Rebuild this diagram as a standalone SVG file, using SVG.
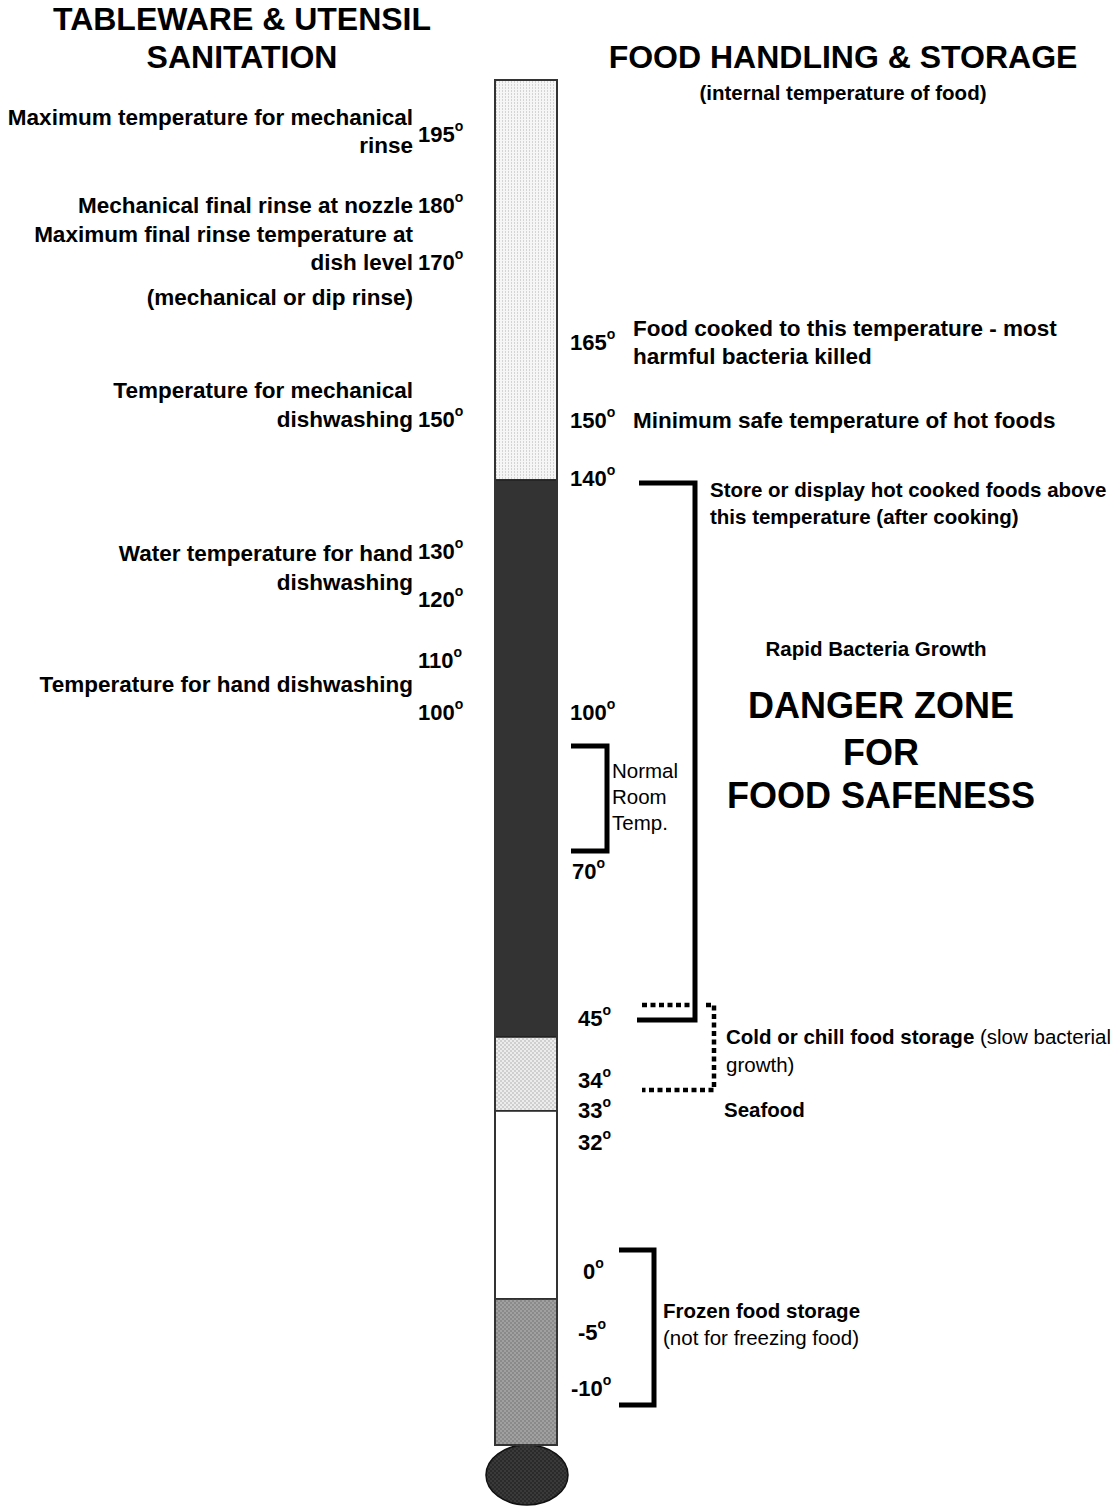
<svg xmlns="http://www.w3.org/2000/svg" width="1111" height="1507" viewBox="0 0 1111 1507">
<defs>
<pattern id="pTop" width="3" height="3" patternUnits="userSpaceOnUse"><rect width="3" height="3" fill="#f6f6f6"/><rect x="1" width="1" height="2" fill="#d4d4d4"/></pattern>
<pattern id="pCold" width="4" height="4" patternUnits="userSpaceOnUse"><rect width="4" height="4" fill="#ececec"/><rect width="2" height="2" fill="#cfcfcf"/><rect x="2" y="2" width="2" height="2" fill="#cfcfcf"/></pattern>
<pattern id="pFrozen" width="4" height="4" patternUnits="userSpaceOnUse"><rect width="4" height="4" fill="#a0a0a0"/><rect width="2" height="2" fill="#8a8a8a"/><rect x="2" y="2" width="2" height="2" fill="#8a8a8a"/></pattern>
<pattern id="pBulb" width="4" height="4" patternUnits="userSpaceOnUse"><rect width="4" height="4" fill="#3a3a3a"/><rect width="2" height="2" fill="#2a2a2a"/><rect x="2" y="2" width="2" height="2" fill="#2a2a2a"/></pattern>
</defs>
<style>
text{font-family:"Liberation Sans",Arial,Helvetica,sans-serif;fill:#000}
.t{font-size:32px;font-weight:bold}
.l{font-size:22.5px;font-weight:bold}
.n{font-size:22px;font-weight:bold}
.s{font-size:20.5px;font-weight:bold}
.r{font-size:20.5px}
.d{font-size:36px;font-weight:bold}
.solid{fill:none;stroke:#000;stroke-width:5}
.dot{fill:none;stroke:#000;stroke-width:4.5;stroke-dasharray:5 3.5}
.seg{stroke:#222;stroke-width:1.5}
</style>

<g id="titles">
<text class="t" x="242" y="30" text-anchor="middle">TABLEWARE &amp; UTENSIL</text>
<text class="t" x="242" y="68" text-anchor="middle">SANITATION</text>
<text class="t" x="843" y="68" text-anchor="middle">FOOD HANDLING &amp; STORAGE</text>
<text class="s" x="843" y="100" text-anchor="middle">(internal temperature of food)</text>
</g>

<g id="thermometer">
<rect x="495" y="80" width="62" height="400" fill="url(#pTop)" class="seg"/>
<rect x="495" y="480" width="62" height="557" fill="#333" class="seg"/>
<rect x="495" y="1037" width="62" height="74" fill="url(#pCold)" class="seg"/>
<rect x="495" y="1111" width="62" height="188" fill="#fff" class="seg"/>
<rect x="495" y="1299" width="62" height="146" fill="url(#pFrozen)" class="seg"/>
<ellipse cx="527" cy="1475" rx="41" ry="30" fill="url(#pBulb)" stroke="#111" stroke-width="1.5"/>
<rect x="495" y="80" width="62" height="1365" fill="none" stroke="#333" stroke-width="2"/>
</g>

<g id="left-labels">
<text class="l" x="413" y="125" text-anchor="end">Maximum temperature for mechanical</text>
<text class="l" x="413" y="153" text-anchor="end">rinse</text>
<text class="n" x="418" y="142">195<tspan font-size="14" dy="-11">o</tspan></text>
<text class="l" x="413" y="213" text-anchor="end">Mechanical final rinse at nozzle</text>
<text class="n" x="418" y="213">180<tspan font-size="14" dy="-11">o</tspan></text>
<text class="l" x="413" y="242" text-anchor="end">Maximum final rinse temperature at</text>
<text class="l" x="413" y="270" text-anchor="end">dish level</text>
<text class="n" x="418" y="270">170<tspan font-size="14" dy="-11">o</tspan></text>
<text class="l" x="413" y="305" text-anchor="end">(mechanical or dip rinse)</text>
<text class="l" x="413" y="398" text-anchor="end">Temperature for mechanical</text>
<text class="l" x="413" y="427" text-anchor="end">dishwashing</text>
<text class="n" x="418" y="427">150<tspan font-size="14" dy="-11">o</tspan></text>
<text class="l" x="413" y="561" text-anchor="end">Water temperature for hand</text>
<text class="n" x="418" y="559">130<tspan font-size="14" dy="-11">o</tspan></text>
<text class="l" x="413" y="590" text-anchor="end">dishwashing</text>
<text class="n" x="418" y="607">120<tspan font-size="14" dy="-11">o</tspan></text>
<text class="n" x="418" y="668">110<tspan font-size="14" dy="-11">o</tspan></text>
<text class="l" x="413" y="692" text-anchor="end">Temperature for hand dishwashing</text>
<text class="n" x="418" y="720">100<tspan font-size="14" dy="-11">o</tspan></text>
</g>

<g id="right-labels">
<text class="n" x="570" y="350">165<tspan font-size="14" dy="-11">o</tspan></text>
<text class="l" x="633" y="336">Food cooked to this temperature - most</text>
<text class="l" x="633" y="364">harmful bacteria killed</text>
<text class="n" x="570" y="428">150<tspan font-size="14" dy="-11">o</tspan></text>
<text class="l" x="633" y="428">Minimum safe temperature of hot foods</text>
<text class="n" x="570" y="486">140<tspan font-size="14" dy="-11">o</tspan></text>
<text class="s" x="710" y="497">Store or display hot cooked foods above</text>
<text class="s" x="710" y="524">this temperature (after cooking)</text>
<text class="s" x="876" y="656" text-anchor="middle">Rapid Bacteria Growth</text>
<text class="d" x="881" y="718" text-anchor="middle">DANGER ZONE</text>
<text class="d" x="881" y="765" text-anchor="middle">FOR</text>
<text class="d" x="881" y="808" text-anchor="middle">FOOD SAFENESS</text>
<text class="n" x="570" y="720">100<tspan font-size="14" dy="-11">o</tspan></text>
<text class="r" x="612" y="778">Normal</text>
<text class="r" x="612" y="804">Room</text>
<text class="r" x="612" y="830">Temp.</text>
<text class="n" x="572" y="879">70<tspan font-size="14" dy="-11">o</tspan></text>
<text class="n" x="578" y="1026">45<tspan font-size="14" dy="-11">o</tspan></text>
<text class="s" x="726" y="1044">Cold or chill food storage <tspan font-weight="normal">(slow bacterial</tspan></text>
<text class="r" x="726" y="1072">growth)</text>
<text class="n" x="578" y="1088">34<tspan font-size="14" dy="-11">o</tspan></text>
<text class="n" x="578" y="1118">33<tspan font-size="14" dy="-11">o</tspan></text>
<text class="s" x="724" y="1117">Seafood</text>
<text class="n" x="578" y="1150">32<tspan font-size="14" dy="-11">o</tspan></text>
<text class="n" x="583" y="1279">0<tspan font-size="14" dy="-11">o</tspan></text>
<text class="n" x="578" y="1340">-5<tspan font-size="14" dy="-11">o</tspan></text>
<text class="n" x="571" y="1396">-10<tspan font-size="14" dy="-11">o</tspan></text>
<text class="s" x="663" y="1318">Frozen food storage</text>
<text class="r" x="663" y="1345">(not for freezing food)</text>
</g>

<g id="connectors">
<path class="dot" d="M642 1005 H690"/>
<path class="dot" d="M706 1005 H714 V1090 H642"/>
<path class="solid" d="M639 483 H695 V1020 H637"/>
<path class="solid" d="M571 746 H607 V851 H571"/>
<path class="solid" d="M619 1250 H654 V1405 H619"/>
</g>
</svg>
